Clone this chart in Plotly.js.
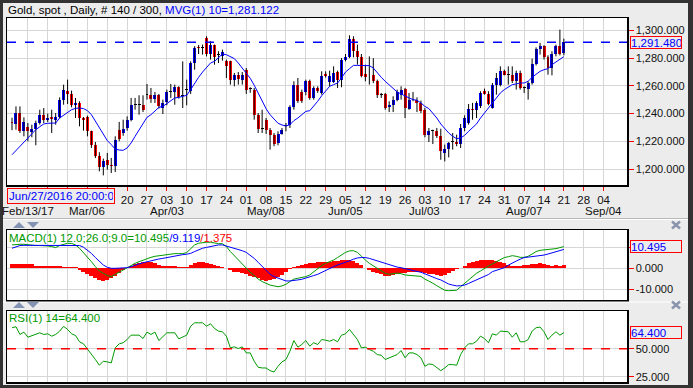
<!DOCTYPE html>
<html><head><meta charset="utf-8">
<script src="https://cdn.plot.ly/plotly-3.0.1.min.js"></script>
<style>html,body{margin:0;padding:0;background:#ececec;overflow:hidden}#chart{width:693px;height:388px}</style>
</head><body><div id="chart"></div><script>
// ---------- DATA ----------
const openP = [1234,1232.5,1240.4,1227.2,1230.3,1226.7,1228.9,1233,1238.7,1235.6,1237.5,1235.6,1237.5,1250.1,1256.6,1254.2,1246,1247.7,1236.8,1237.5,
1227.2,1217.1,1209.6,1201.4,1206.3,1203.1,1201.9,1228,1226,1229.6,1235.6,1246,1246,1246,1253.2,1253.2,1250.8,1253.2,1244,1248.4,
1255.6,1255.6,1259,1253,1257.3,1256.6,1276.5,1288,1287.4,1294.6,1283,1289.3,1282,1281.8,1278.2,1277.7,1264.5,1268,1264.5,1271.7,
1257.5,1257.3,1239.2,1229,1235.6,1228.4,1224.3,1218.8,1225.3,1231.2,1231.5,1244.5,1260.9,1255.6,1255.6,1263.8,1251.3,1258.5,1254.9,1268.5,
1262.8,1262.8,1270,1264.5,1278.9,1280.6,1294.1,1285.4,1280.6,1268.5,1267.5,1268,1263.3,1253.7,1254.2,1244.5,1246,1250.1,1253.7,1258,
1243.6,1250.1,1250.1,1247.7,1242.8,1224.3,1227.7,1227.2,1223.6,1211.6,1214.4,1219.5,1219.5,1218,1229.6,1233.2,1243.6,1242.4,1245.3,1256.1,
1254.2,1244,1260.9,1260.9,1270.5,1267.6,1267.6,1263.3,1269.3,1258.5,1258,1262.1,1275.8,1286.6,1288.6,1280.6,1272.9,1283,1288.6,1283.8];
const highP = [1237,1245.2,1245.2,1237.3,1233.2,1232,1234.9,1242.8,1244,1240,1242.8,1240.4,1251.7,1260.9,1264.5,1256.6,1251.3,1248.9,1237.5,1238.5,
1227.7,1219.5,1212.1,1207.5,1211.6,1208,1223.6,1234,1235.6,1238,1251.3,1251.3,1253.2,1253.2,1261.4,1258.5,1255.6,1254.2,1250.1,1257.3,
1261.4,1260.9,1259.7,1277.7,1264.5,1277.7,1288.6,1289.5,1289.8,1295.8,1292.2,1289.8,1285,1286.2,1278.9,1278.2,1269.3,1270,1270,1272.9,
1259,1258.5,1240.4,1242.8,1236.8,1229.6,1226,1227.2,1229.6,1233.2,1246,1263.3,1265.7,1257.3,1264.5,1264.5,1259.7,1259.7,1270.5,1270.5,
1271,1274.1,1271,1280.1,1283,1296.5,1295.8,1289.8,1283,1275.3,1281.3,1280,1264.5,1254.9,1254.9,1248.9,1252.5,1257.3,1259.7,1258.5,
1254.9,1255.6,1251.7,1249.4,1244,1229.6,1228.4,1229.6,1229.1,1217.6,1219.5,1226,1224.8,1232.5,1238.7,1246.9,1247.7,1248.9,1256.1,1258,
1256.1,1262.1,1269.3,1274.1,1271.7,1274.1,1274.1,1271,1271,1259.7,1263.3,1279.7,1287.8,1291,1289.3,1282.1,1285,1289.8,1300.6,1294.1];
const lowP = [1228,1228.4,1226,1223.6,1220,1222.9,1217.1,1232,1233.2,1234,1226,1232,1236.4,1246.4,1246.9,1244.5,1236.8,1230.8,1227.7,1223.6,
1215.2,1207.9,1198.3,1195.4,1199.5,1197.1,1197.8,1220,1224,1227.7,1234.4,1242.8,1239.2,1241.1,1250.1,1247.7,1247.7,1243.6,1239.7,1246,
1251.3,1246.4,1250.8,1244,1246,1254.2,1271.7,1283,1282.6,1281.3,1279,1275.3,1276.5,1278.2,1265.7,1260.9,1259.7,1260.9,1260.9,1254.2,
1255,1235.6,1226,1226,1225.3,1214,1216.4,1217.1,1224.8,1227.2,1229.6,1242.8,1247.7,1247.7,1253.2,1250,1250.1,1254.9,1253.7,1266,
1259.7,1262.1,1258.5,1259,1277.7,1280.1,1280.6,1275.3,1266.2,1263.3,1260.9,1262,1251.3,1251.3,1242.8,1241.1,1241.1,1248.9,1250.1,1236.8,
1242.8,1248.9,1241.1,1240.4,1222.9,1219.5,1218,1222.4,1206.7,1205.5,1208.4,1214,1216.4,1215.2,1227.2,1232,1235.6,1236.8,1244,1253.7,
1246,1243.6,1253.7,1259.7,1267.6,1260.9,1262.1,1257.3,1257.3,1254.9,1250.1,1260.9,1274.8,1282.6,1279,1268.1,1267.6,1281.3,1282,1282.1];
const closeP = [1233,1240.4,1227.2,1234,1227.2,1228.9,1233,1239.2,1235.6,1237,1236.1,1237.5,1250.1,1257.3,1254.2,1246.4,1247.7,1236.8,1235.1,1227.2,
1217.1,1209.6,1201.2,1205.5,1203.1,1201.9,1221.2,1221.5,1228.9,1235.6,1246,1246,1246,1242.8,1253.2,1250.8,1253.2,1245.3,1247.7,1255.6,
1255.6,1259,1251.7,1253,1257.3,1276.5,1287.4,1287,1287.4,1283,1289.3,1280.6,1282,1284.2,1274.1,1264.5,1268.1,1264.8,1268.1,1257.3,
1257.5,1239.2,1229.1,1229,1228.4,1224.3,1218,1225.3,1228.4,1231.2,1244.5,1260.9,1249.4,1249.4,1263.3,1251.3,1258.5,1256.1,1266.9,1266.9,
1266.9,1269.3,1264.5,1278.9,1280.6,1294.1,1285.4,1280.6,1266.9,1266.7,1267.5,1263.3,1253.7,1253.7,1244,1246,1250.1,1255.6,1257.3,1244,
1250.1,1250.1,1247.7,1242.1,1224.8,1227.7,1227.7,1223.6,1213.2,1214.4,1218.8,1219.5,1218,1229.6,1236.8,1243.6,1242.4,1247.7,1254.9,1254.2,
1246.9,1260.9,1265.7,1270.5,1268.1,1267.6,1263.3,1269.3,1258.5,1258.5,1262.1,1275.8,1286.6,1288.6,1280.6,1272.9,1283,1288.6,1283,1291.48];
const ma10 = [1210.3,1213.3,1216.4,1219.4,1222.4,1225.4,1228.4,1230.5,1232.5,1233,1233.2,1233.2,1236.8,1238.7,1240.9,1242.8,1243.8,1244,1243.6,1242.1,
1239.2,1234.4,1229.6,1224.8,1220.5,1217.6,1214.4,1213.7,1213.5,1215.2,1218.8,1223.6,1228.4,1233.2,1237.3,1239.2,1241.6,1244.5,1245.2,1247.4,
1249.6,1251.3,1251.7,1252.2,1253.2,1257.3,1262.1,1266.2,1270,1273.4,1276.5,1277.7,1280.1,1283,1282.5,1281.3,1279.7,1276.5,1272.9,1269.3,
1265.5,1260.5,1254.5,1248.7,1243.5,1239.2,1235.8,1233,1231.8,1231,1232,1234.9,1236.8,1239.2,1241.6,1242.1,1245.2,1248.9,1252.9,1256.6,
1259.7,1260.9,1262.1,1265.7,1270,1272.4,1274.8,1274.8,1274.8,1274.8,1274.6,1272.9,1269.3,1266.2,1263.3,1260.9,1258.5,1255.6,1254.2,1252.5,
1251.3,1250.1,1249.6,1247.7,1245.2,1243.6,1240.4,1236.8,1232.5,1229.1,1226,1223.6,1221.9,1222.4,1224.3,1227.2,1229.6,1232.5,1236.8,1240.4,
1244,1247.7,1251.3,1254.9,1257.3,1259,1260.9,1261.4,1262.1,1262.1,1263.3,1266.2,1268.6,1270.5,1271.7,1272.4,1275.3,1277.2,1278.9,1281.1];
const macdLine = [11.3,11.6,11.6,11.6,11.3,11.0,11.0,11.0,11.0,10.8,10.5,10.0,11.0,11.6,12.1,12.0,11.3,9.7,7.7,5.6,
3.2,0.8,-1.3,-2.4,-3.5,-4.0,-2.9,-1.9,-0.8,0,1.3,2.4,3.2,4.0,4.8,5.3,5.8,6.1,6.4,6.8,
7.1,7.1,7.1,7.1,7.6,9.7,11.3,12.1,12.4,12.6,12.6,12.2,11.9,11.9,10.5,8.1,6.1,4.0,1.9,0,
-1.9,-3.5,-5.2,-6.4,-7.2,-8.1,-8.5,-8.9,-8.5,-7.7,-6.4,-5.2,-4.8,-4.5,-4.0,-3.2,-1.6,-0.3,1.3,2.4,
3.2,4.0,5.2,6.4,7.7,8.4,8.5,7.7,5.6,4.0,2.4,1.3,0,-1.1,-2.4,-2.9,-2.6,-2.3,-2.6,-3.2,
-3.4,-3.5,-3.5,-3.9,-5.2,-6.1,-7.2,-8.4,-9.7,-10.6,-10.8,-10.8,-10.6,-8.9,-7.2,-5.6,-3.7,-2.4,-1.3,0,
1.1,2.1,3.2,4.3,5.2,5.6,6.1,5.8,5.3,5.3,5.8,6.9,8.1,8.7,8.9,8.9,9.0,9.5,10.0,10.495];
const signalLine = [9.7,10.5,11.0,11.1,11.1,11.1,11.1,11.1,11.1,11.0,11.0,11.0,11.0,11.1,11.3,11.3,11.3,11.0,10.2,8.9,
7.2,5.2,3.2,1.6,0.5,0,0,0,0,0.3,0.8,1.6,2.1,2.7,3.2,3.7,4.2,4.5,4.8,5.2,
5.6,6.1,6.4,6.6,6.8,7.2,8.1,8.9,9.7,10.1,10.6,11.1,11.3,11.3,10.8,10.0,9.7,9.2,8.5,7.7,
6.4,4.8,2.9,0.8,-1.3,-2.9,-4.0,-4.8,-5.6,-6.1,-6.1,-6.0,-5.6,-5.3,-4.8,-4.3,-3.5,-2.9,-1.9,-1.1,
0,0.8,1.6,2.2,2.9,3.6,4.4,5.0,5.2,5.2,4.8,4.2,3.6,2.9,2.2,1.6,1.1,0.6,0.3,-0.2,
-0.8,-1.2,-1.5,-1.9,-2.6,-3.2,-4.2,-5.0,-5.6,-6.6,-7.6,-8.1,-8.5,-8.4,-8.1,-7.3,-6.4,-5.6,-4.8,-4.0,
-3.0,-1.6,-1.0,-0.4,0.3,1.5,2.7,3.5,4.4,5.2,5.4,5.6,5.9,6.2,6.4,6.9,7.4,7.9,8.5,9.119];
const macdHist = [2.1,2.1,2.1,2.0,2.0,2.0,1.1,1.1,1.1,1.1,1.1,1.1,1.1,0.8,0.8,0.8,0.6,-0.8,-1.9,-2.9,
-3.7,-4.8,-5.8,-6.0,-5.6,-4.8,-3.5,-2.4,-0.8,0.1,1.3,1.9,2.4,2.9,3.2,3.1,2.4,1.6,1.3,1.3,
1.2,1.0,0.8,0.8,0.8,1.6,2.4,2.9,3.1,2.7,2.3,1.6,1.1,0.8,0.05,-0.8,-1.6,-1.9,-2.4,-2.9,
-3.5,-4.0,-4.5,-5.8,-6.1,-5.6,-5.2,-4.3,-3.2,-1.9,-0.3,0.8,1.3,1.6,1.9,2.4,2.7,2.9,3.2,3.2,
3.2,3.5,3.5,3.8,4.0,4.0,3.6,2.4,1.6,0.3,-0.8,-1.6,-2.4,-2.9,-3.5,-3.5,-3.2,-2.9,-2.4,-2.4,
-1.9,-1.9,-1.9,-1.9,-2.4,-2.7,-2.9,-3.2,-3.5,-3.2,-2.4,-1.3,-0.3,0.3,1.3,2.4,3.2,3.7,4.0,4.0,
4.0,3.9,3.7,3.2,2.4,1.6,1.3,1.1,1.2,1.6,1.6,1.9,2.1,2.4,2.2,1.6,1.3,1.6,1.3,1.375];
const rsi14 = [68.8,69.7,62.8,64.9,60.4,61.9,62.8,64.3,62.8,63.4,61.3,62.8,65.8,70,67.3,63.4,61.9,56.3,54.5,50,
44.9,40.5,35.4,39,38.4,37.5,50.9,54.5,55.4,58.3,62.2,62.2,62.2,59.2,64.9,62.8,64.9,57.4,61.3,64.3,
64.3,64.3,58.9,60.4,62.2,70.2,73.2,73.2,73.2,70.2,72.3,68.2,65.8,65.2,61.3,50.9,51.8,50.3,51.8,46.4,
46.4,39,33.6,33,33,30.6,29.4,34.5,38.4,40.5,47.9,57.4,51.5,53.9,57.4,52.4,55.4,53.9,58.3,57.7,
56.8,58.3,56.3,62.2,63.4,67.3,62.8,58.3,50.9,51.5,49.4,47.9,44.9,44.3,40.5,42,43.5,44.9,48.5,42,
46.4,46.4,44.9,42,34.5,36.6,36,33,30.6,33,36,36,35.4,44.9,50.9,54.5,54.5,56.8,61.3,59.2,
55.4,63.4,62.2,65.8,65.2,65.2,60.4,64.3,56.3,56.3,58.3,65.8,68.8,69.4,65.2,58.3,62.2,65.2,62.2,64.4];

// tick labels
const weekTickIdx = [4,9,14,19,24,29,34,39,44,49,54,59,64,69,74,79,84,89,94,99,104,109,114,119,124,129,134,139,144,149];
const weekLabels = ["","","","","","20","27","03","10","17","24","01","08","15","22","29","05","12","19","26","03","10","17","24","31","07","14","21","28","04"];
const monthTickIdx = [4,19,39,64,84,104,129,149];
const monthLabels = ["Feb/13/17","Mar/06","Apr/03","May/08","Jun/05","Jul/03","Aug/07","Sep/04"];
const priceTicks = [1200,1220,1240,1260,1280,1300];
const macdTicks = [-10,0,10];
const macdTickText = ["-10.000","0.000",""];
const rsiTicks = [25,50];
const rsiTickText = ["25.000","50.000"];

// ---------- BUILD ----------
const W=693,H=388;
const px=x=>x/W, py=y=>1-y/H;
const idx = closeP.map((_,i)=>i);
const BLUE='#0000ff', RED='#ff0000', GREEN='#009a00';
const FONT='Liberation Sans, Arial, sans-serif';

const wx=[], wy=[];
idx.forEach(i=>{wx.push(i,i,null); wy.push(lowP[i],highP[i],null);});
const bodyBase = idx.map(i=>Math.min(openP[i],closeP[i]));
const bodyH = idx.map(i=>Math.max(Math.abs(closeP[i]-openP[i]),0.7));
const bodyCol = idx.map(i=>Math.abs(closeP[i]-openP[i])<0.6?'#000000':(closeP[i]>openP[i]?BLUE:RED));

const traces = [
 {type:'scatter',mode:'lines',x:wx,y:wy,xaxis:'x',yaxis:'y',line:{color:'#000',width:1},hoverinfo:'skip'},
 {type:'bar',x:idx,y:bodyH,base:bodyBase,width:0.75,xaxis:'x',yaxis:'y',marker:{color:bodyCol,line:{width:0}},hoverinfo:'skip'},
 {type:'scatter',mode:'lines',x:idx,y:ma10,xaxis:'x',yaxis:'y',line:{color:BLUE,width:1},hoverinfo:'skip'},
 {type:'bar',x:idx,y:macdHist,width:1,xaxis:'x2',yaxis:'y2',marker:{color:RED,line:{width:0}},hoverinfo:'skip'},
 {type:'scatter',mode:'lines',x:idx,y:macdLine,xaxis:'x2',yaxis:'y2',line:{color:GREEN,width:1},hoverinfo:'skip'},
 {type:'scatter',mode:'lines',x:idx,y:signalLine,xaxis:'x2',yaxis:'y2',line:{color:BLUE,width:1},hoverinfo:'skip'},
 {type:'scatter',mode:'lines',x:idx,y:rsi14,xaxis:'x3',yaxis:'y3',line:{color:GREEN,width:1},hoverinfo:'skip'}
];

const xr=[-1.26,154.9];
const xc = {range:xr,tickvals:weekTickIdx,showgrid:true,gridcolor:'#d6d6d6',gridwidth:1,zeroline:false,showline:true,mirror:true,
  linecolor:'#000',linewidth:1.5,fixedrange:true,domain:[px(7),px(627)]};
const yc = {side:'right',ticks:'outside',tickcolor:RED,ticklen:5,tickwidth:1,showgrid:true,gridcolor:'#d6d6d6',zeroline:false,
  showline:true,mirror:true,linecolor:'#000',linewidth:1.5,fixedrange:true,tickfont:{family:FONT,size:11,color:'#111'}};

const lastClose = closeP[closeP.length-1];
const shapes = [
 {type:'rect',xref:'paper',yref:'paper',x0:0,x1:px(3),y0:0,y1:1,fillcolor:'#333',line:{width:0}},
 {type:'rect',xref:'paper',yref:'paper',x0:px(688),x1:1,y0:0,y1:1,fillcolor:'#333',line:{width:0}},
 {type:'rect',xref:'paper',yref:'paper',x0:0,x1:1,y0:py(3),y1:1,fillcolor:'#333',line:{width:0}},
 {type:'rect',xref:'paper',yref:'paper',x0:0,x1:1,y0:0,y1:py(385),fillcolor:'#333',line:{width:0}},
 {type:'line',xref:'paper',yref:'paper',x0:px(3),x1:px(688),y0:py(218.5),y1:py(218.5),line:{color:'#b8b8b8',width:1}},
 {type:'line',xref:'paper',yref:'paper',x0:px(3),x1:px(688),y0:py(219.5),y1:py(219.5),line:{color:'#ffffff',width:1}},
 {type:'line',xref:'paper',yref:'paper',x0:px(3),x1:px(688),y0:py(302),y1:py(302),line:{color:'#ffffff',width:1}},
 {type:'line',xref:'paper',yref:'y',x0:px(7),x1:px(627),y0:lastClose,y1:lastClose,line:{color:BLUE,width:1.5,dash:'dash'}},
 {type:'line',xref:'paper',yref:'y3',x0:px(7),x1:px(627),y0:50,y1:50,line:{color:RED,width:1.5,dash:'dash'}},
];
[225,305].forEach(cy=>{
  shapes.push({type:'path',xref:'paper',yref:'paper',path:`M ${px(13)},${py(cy+3)} L ${px(25)},${py(cy+3)} L ${px(19)},${py(cy-3)} Z`,fillcolor:'#8492b4',line:{width:0}});
  shapes.push({type:'path',xref:'paper',yref:'paper',path:`M ${px(27)},${py(cy-3)} L ${px(39)},${py(cy-3)} L ${px(33)},${py(cy+3)} Z`,fillcolor:'#8492b4',line:{width:0}});
  shapes.push({type:'line',xref:'paper',yref:'paper',x0:px(672),x1:px(680),y0:py(cy-3.5),y1:py(cy+3.5),line:{color:'#8a94ad',width:2.5}});
  shapes.push({type:'line',xref:'paper',yref:'paper',x0:px(672),x1:px(680),y0:py(cy+3.5),y1:py(cy-3.5),line:{color:'#8a94ad',width:2.5}});
});

const fnt=(c,s)=>({family:FONT,size:s||11,color:c});
const annotations = [
 {xref:'paper',yref:'paper',x:px(6),y:py(10),xanchor:'left',yanchor:'middle',showarrow:false,
  text:'Gold, spot , Daily, # 140 / 300, <span style="color:#0000ff">MVG(1) 10=1,281.122</span>',font:fnt('#000',11.5)},
 {xref:'paper',yref:'paper',x:px(7),y:py(237.5),xanchor:'left',yanchor:'middle',showarrow:false,
  text:'MACD(1) 12.0;26.0;9.0=10.495<span style="color:#0000ff">/9.119</span><span style="color:#ff0000">/1.375</span>',font:fnt(GREEN,11.5)},
 {xref:'paper',yref:'paper',x:px(7),y:py(318),xanchor:'left',yanchor:'middle',showarrow:false,
  text:'RSI(1) 14=64.400',font:fnt(GREEN,11.5)},
 {xref:'paper',yref:'paper',x:px(7),y:py(196),xanchor:'left',yanchor:'middle',showarrow:false,
  text:'Jun/27/2016 20:00:00',font:fnt(BLUE,11.5),bordercolor:RED,borderwidth:1,borderpad:1,bgcolor:'#ececec',width:104,height:12,align:'left'},
 {xref:'paper',yref:'y',x:px(630),y:lastClose,xanchor:'left',yanchor:'middle',showarrow:false,
  text:'1,291.480',font:fnt(BLUE,11.5),bordercolor:RED,borderwidth:1,borderpad:0,bgcolor:'#ececec',width:50,height:11,align:'left'},
 {xref:'paper',yref:'y2',x:px(630),y:macdLine[macdLine.length-1],xanchor:'left',yanchor:'middle',showarrow:false,
  text:'10.495',font:fnt(BLUE,11.5),bordercolor:RED,borderwidth:1,borderpad:0,bgcolor:'#ececec',width:50,height:11,align:'left'},
 {xref:'paper',yref:'y3',x:px(630),y:rsi14[rsi14.length-1],xanchor:'left',yanchor:'middle',showarrow:false,
  text:'64.400',font:fnt(BLUE,11.5),bordercolor:RED,borderwidth:1,borderpad:0,bgcolor:'#ececec',width:50,height:11,align:'left'},
];
monthTickIdx.forEach((t,j)=>annotations.push({xref:'x',yref:'paper',x:t,y:py(211),xanchor:'center',yanchor:'middle',showarrow:false,
  text:monthLabels[j],font:fnt('#111',11.5)}));

const layout = {
 width:W,height:H,margin:{l:0,r:0,t:0,b:0},paper_bgcolor:'#ececec',plot_bgcolor:'#ffffff',showlegend:false,
 barmode:'overlay',bargap:0,font:{family:FONT,size:11,color:'#111'},
 xaxis:Object.assign({},xc,{anchor:'y',ticktext:weekLabels,ticks:'outside',tickcolor:RED,ticklen:4,tickfont:fnt('#111',11.5)}),
 xaxis2:Object.assign({},xc,{anchor:'y2',showticklabels:false,ticks:''}),
 xaxis3:Object.assign({},xc,{anchor:'y3',showticklabels:false,ticks:''}),
 yaxis:Object.assign({},yc,{anchor:'x',domain:[py(185),py(18)],range:[1188.45,1309],tickvals:priceTicks,tickformat:',.3f'}),
 yaxis2:Object.assign({},yc,{anchor:'x2',domain:[py(300),py(230)],range:[-15.3,18.5],tickvals:macdTicks,ticktext:macdTickText}),
 yaxis3:Object.assign({},yc,{anchor:'x3',domain:[py(382),py(311)],range:[20.5,83.7],tickvals:rsiTicks,ticktext:rsiTickText}),
 shapes:shapes,annotations:annotations
};
Plotly.newPlot('chart',traces,layout,{staticPlot:true,displayModeBar:false});
</script></body></html>
